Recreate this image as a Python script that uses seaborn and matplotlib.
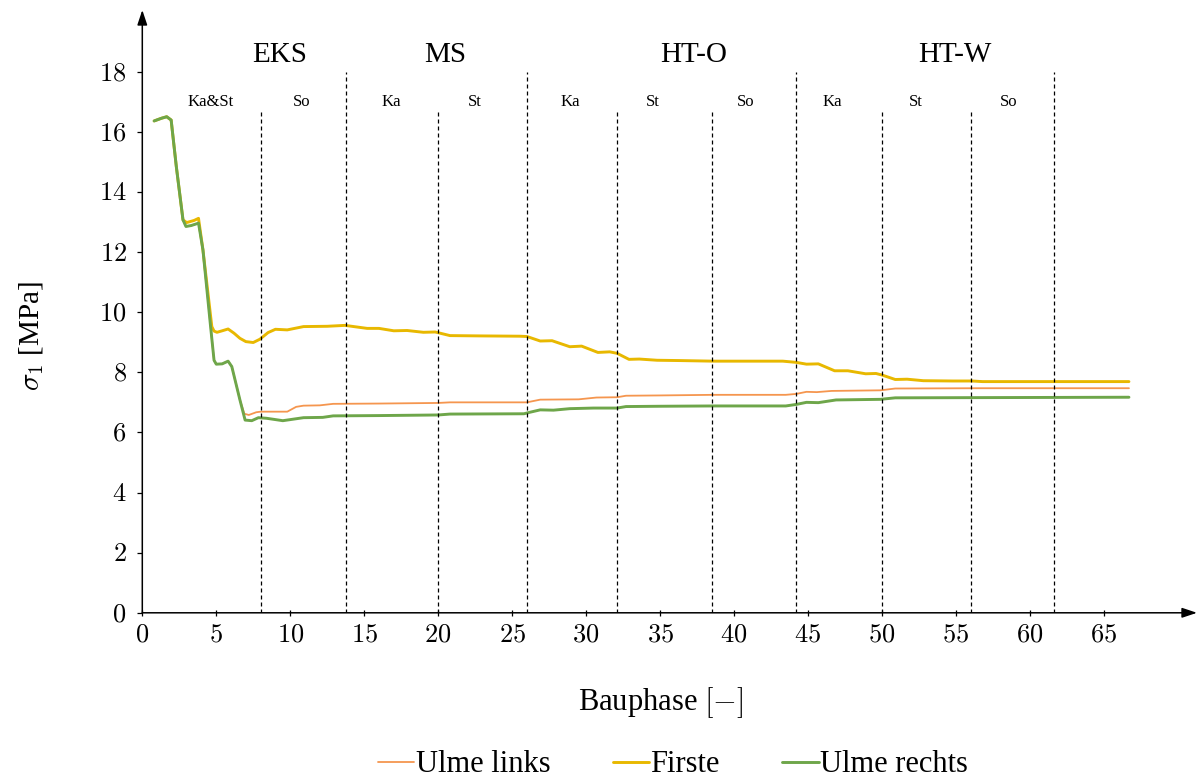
import matplotlib
matplotlib.use("Agg")
import matplotlib.pyplot as plt
import pandas as pd
import seaborn as sns

# --- principal stress sigma_1 per construction stage -------------------------
x_rechts = [0.8, 1.3, 1.65, 1.95, 2.3, 2.75, 2.95, 3.3, 3.8, 4.1, 4.6, 4.85, 5.0, 5.4,
            5.8, 6.05, 6.6, 6.95, 7.4, 7.85, 8.4, 9.5, 10.9, 12.2, 12.9, 16.0, 20.0,
            20.8, 25.8, 26.2, 26.9, 27.8, 28.9, 30.5, 32.1, 32.7, 35.0, 38.6, 43.5,
            44.2, 44.9, 45.7, 46.9, 49.9, 50.9, 66.7]
y_rechts = [16.36, 16.45, 16.50, 16.39, 14.84, 13.07, 12.85, 12.88, 12.96, 12.07, 9.6,
            8.4, 8.27, 8.28, 8.37, 8.19, 7.08, 6.41, 6.39, 6.49, 6.47, 6.39, 6.49, 6.50,
            6.55, 6.56, 6.58, 6.61, 6.62, 6.67, 6.75, 6.74, 6.79, 6.81, 6.81, 6.86, 6.87,
            6.88, 6.88, 6.93, 7.00, 6.99, 7.08, 7.10, 7.15, 7.17]

x_links = [0.8, 1.3, 1.65, 1.95, 2.3, 2.75, 2.95, 3.3, 3.8, 4.1, 4.6, 4.85, 5.0, 5.4,
           5.8, 6.05, 6.6, 6.9, 7.2, 7.7, 8.0, 9.8, 10.4, 10.9, 12.0, 12.9, 16.0, 20.0,
           20.8, 26.0, 26.9, 29.5, 30.7, 32.1, 32.7, 35.0, 38.6, 43.5, 44.2, 44.9, 45.6,
           46.6, 49.9, 50.9, 56.6, 66.7]
y_links = [16.36, 16.45, 16.50, 16.39, 14.84, 13.07, 12.85, 12.88, 12.96, 12.07, 9.6,
           8.4, 8.27, 8.28, 8.37, 8.19, 7.08, 6.62, 6.58, 6.67, 6.69, 6.69, 6.85, 6.89,
           6.90, 6.95, 6.96, 6.98, 7.00, 7.00, 7.09, 7.10, 7.16, 7.17, 7.22, 7.23, 7.25,
           7.25, 7.28, 7.35, 7.34, 7.38, 7.40, 7.46, 7.47, 7.47]

x_firste = [0.8, 1.3, 1.65, 1.95, 2.3, 2.75, 3.0, 3.5, 3.8, 4.1, 4.7, 4.85, 5.05, 5.4,
            5.8, 6.2, 6.6, 7.0, 7.5, 7.95, 8.5, 9.0, 9.8, 10.9, 12.5, 13.7, 15.2, 16.0,
            17.0, 17.9, 19.0, 19.8, 20.8, 22.8, 25.5, 26.0, 26.9, 27.7, 28.9, 29.7, 30.8,
            31.6, 32.1, 32.9, 33.6, 34.8, 36.3, 38.6, 43.3, 44.2, 44.9, 45.7, 46.8, 47.7,
            48.9, 49.6, 50.0, 50.9, 51.7, 52.8, 54.8, 56.1, 56.8, 66.7]
y_firste = [16.36, 16.45, 16.50, 16.39, 14.84, 13.07, 12.98, 13.05, 13.12, 12.07, 9.52,
            9.37, 9.33, 9.38, 9.44, 9.30, 9.13, 9.02, 8.99, 9.10, 9.32, 9.43, 9.41, 9.52,
            9.53, 9.56, 9.46, 9.46, 9.38, 9.39, 9.33, 9.34, 9.22, 9.21, 9.20, 9.19, 9.04,
            9.05, 8.85, 8.87, 8.66, 8.68, 8.63, 8.43, 8.44, 8.40, 8.39, 8.37, 8.37, 8.33,
            8.27, 8.28, 8.05, 8.05, 7.95, 7.96, 7.91, 7.76, 7.77, 7.72, 7.71, 7.71, 7.69,
            7.69]

series_names = ["Ulme links", "Firste", "Ulme rechts"]
series_colors = ["#F5964F", "#E8B800", "#6EA64A"]
series_widths = [1.3, 2.1, 2.1]

# --- construction phase boundaries and labels ---------------------------------
phase_bounds = [13.8, 26.0, 44.2, 61.6]
step_bounds = [8.0, 20.0, 32.1, 38.5, 50.0, 56.0]
phase_labels = ["EKS", "MS", "HT-O", "HT-W"]
phase_label_x = [9.3, 20.5, 37.3, 54.9]
step_labels = ["Ka&St", "So", "Ka", "St", "Ka", "St", "So", "Ka", "St", "So"]
step_label_x = [4.6, 10.8, 16.8, 22.5, 28.9, 34.5, 40.8, 46.65, 52.3, 58.55]

x_ticks = list(range(0, 70, 5))
y_ticks = list(range(0, 20, 2))

sns.set_style("white")
plt.rcParams["font.family"] = ["Liberation Serif", "DejaVu Serif"]
plt.rcParams["mathtext.fontset"] = "cm"
plt.rcParams["text.color"] = "black"
plt.rcParams["axes.labelcolor"] = "black"

fig = plt.figure(figsize=(11.97, 7.82), dpi=100)
ax = fig.add_axes([142.3 / 1197, (782 - 612.8) / 782, 1054.7 / 1197, 602.8 / 782])
ax.set_xlim(0, 71.3)
ax.set_ylim(0, 20.05)

frames = {
    "Ulme links": pd.DataFrame({"x": x_links, "y": y_links}),
    "Firste": pd.DataFrame({"x": x_firste, "y": y_firste}),
    "Ulme rechts": pd.DataFrame({"x": x_rechts, "y": y_rechts}),
}
for name, color, lw in zip(series_names, series_colors, series_widths):
    sns.lineplot(data=frames[name], x="x", y="y", ax=ax, color=color, lw=lw,
                 label=name, estimator=None, sort=True)

# stage separators
dash = (0, (3.2, 2.4))
ax.vlines(phase_bounds, 0, 18.0, colors="black", linestyles=dash, lw=0.9)
ax.vlines(step_bounds, 0, 16.73, colors="black", linestyles=dash, lw=0.9)

for lab, xp in zip(phase_labels, phase_label_x):
    ax.text(xp, 18.56, lab, ha="center", va="center", fontsize=21, color="black")
for lab, xp in zip(step_labels, step_label_x):
    ax.text(xp, 17.0, lab, ha="center", va="center", fontsize=12, color="black")

# axis lines with arrow heads
for s in ax.spines.values():
    s.set_visible(False)
ax.annotate("", xy=(71.3, 0), xytext=(0, 0), xycoords="data",
            arrowprops=dict(arrowstyle="-|>,head_length=0.9,head_width=0.3",
                            color="black", lw=1.1, shrinkA=0, shrinkB=0),
            annotation_clip=False)
ax.annotate("", xy=(0, 20.05), xytext=(0, 0), xycoords="data",
            arrowprops=dict(arrowstyle="-|>,head_length=0.9,head_width=0.3",
                            color="black", lw=1.1, shrinkA=0, shrinkB=0),
            annotation_clip=False)

ax.set_xticks(x_ticks)
ax.set_xticklabels([f"${t}$" for t in x_ticks])
ax.set_yticks(y_ticks)
ax.set_yticklabels([f"${t}$" for t in y_ticks])
ax.tick_params(axis="x", direction="inout", length=4.5, width=0.9, pad=6,
               labelsize=19, colors="black", bottom=True)
ax.tick_params(axis="y", direction="out", length=3.3, width=0.9, pad=8,
               labelsize=19, colors="black", left=True)
ax.set_xlabel("")
ax.set_ylabel("")

fig.text(660.8 / 1197, 1 - 703 / 782, "Bauphase $[-]$", ha="center", va="center",
         fontsize=22, color="black")
fig.text(32 / 1197, 1 - 336 / 782, r"$\sigma_1$ [MPa]", ha="center", va="center",
         rotation=90, fontsize=21, color="black")

leg = ax.legend(loc="center", bbox_to_anchor=(673 / 1197, 1 - 765 / 782),
                bbox_transform=fig.transFigure, ncol=3, frameon=False, fontsize=22,
                handlelength=1.18, handletextpad=0.05, columnspacing=2.05,
                borderaxespad=0, borderpad=0)
for t in leg.get_texts():
    t.set_color("black")

fig.savefig("out.png", dpi=100)
